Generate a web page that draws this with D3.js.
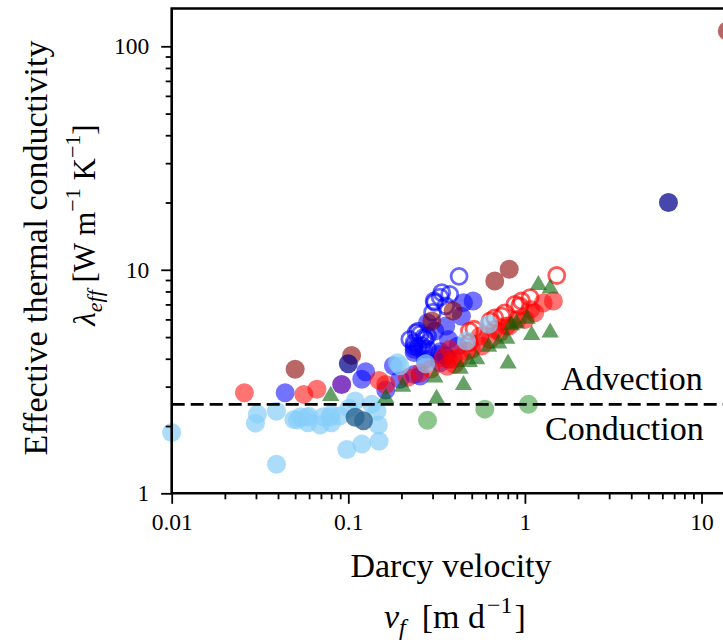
<!DOCTYPE html>
<meta charset="utf-8">
<body style="margin:0;background:#fff">
<style>
  svg{display:block}
  text{font-family:"Liberation Serif","Times New Roman",serif;fill:#000}
</style>
<script src="https://cdn.jsdelivr.net/npm/d3@7"></script>
<script>
  //data, [Darcy velocity, lambda_eff]
  var skyFilled = [[0.01,1.87],[0.0306,2.26],[0.0298,2.06],[0.0392,2.33],[0.0392,1.35],[0.0492,2.14],[0.0515,2.13],
    [0.0537,2.2],[0.0582,2.19],[0.0597,2.21],[0.059,2.07],[0.0693,2.02],[0.0722,2.2],[0.0788,2.19],[0.0802,2.07],
    [0.0802,2.26],[0.0896,2.22],[0.0981,1.57],[0.1009,2.4],[0.1094,2.59],[0.1192,1.66],[0.1358,2.5],[0.1453,2.33],
    [0.148,2.02],[0.1494,1.71],[0.19,3.84],[0.196,3.72],[0.274,3.8],[0.467,4.8],[0.623,5.7]];
  var tealFilled = [[0.1094,2.19],[0.1219,2.11]];
  var redFilled = [[0.0258,2.82],[0.056,2.77],[0.0664,2.92],[0.1494,3.2],[0.163,3.07],[0.216,3.3],[0.255,3.45],
    [0.2935,3.6],[0.344,4.04],[0.363,3.7],[0.394,3.98],[0.40,3.78],[0.43,4.04],[0.375,4.4],[0.467,4.33],[0.4975,4.4],
    [0.569,4.56],[0.6345,4.88],[0.557,5.05],[0.722,5.24],[0.675,5.4],[0.786,5.6],[0.815,5.6],[0.906,6.0],[1.002,6.0],
    [1.076,6.65],[1.137,6.42],[1.269,7.1],[1.45,7.25]];
  var redOpen = [[0.485,4.72],[0.485,5.32],[0.515,5.42],[0.6345,5.9],[0.675,6.1],[0.74,6.2],[0.7685,6.42],
    [0.878,7.0],[0.935,6.9],[0.957,7.25],[1.07,7.51],[1.515,9.43]];
  var blueFilled = [[0.0439,2.82],[0.1192,3.24],[0.1254,3.5],[0.163,2.9],[0.18,3.72],[0.196,3.24],[0.236,3.4],
    [0.255,3.35],[0.236,4.41],[0.236,4.26],[0.236,4.56],[0.272,3.98],[0.268,4.41],[0.325,4.18],[0.331,3.84],
    [0.331,4.3],[0.3565,4.11],[0.369,3.98],[0.369,4.88],[0.418,4.56],[0.281,5.8],[0.309,5.32],[0.3565,5.6],
    [0.437,6.2],[0.449,7.13],[0.509,7.25]];
  var blueOpen = [[0.424,9.35],[0.331,7.55],[0.309,7.15],[0.3565,6.9],[0.30,6.45],[0.375,7.77],[0.338,7.9],
    [0.306,7.25],[0.255,5.15],[0.272,4.88],[0.249,4.49],[0.281,4.41],[0.223,4.88],[0.249,5.32],[0.268,5.0],
    [0.236,4.72],[0.281,5.05],[0.262,4.56],[0.242,5.24]];
  var brownFilled = [[0.05,3.59],[0.1044,4.14],[0.297,5.9],[0.392,6.54],[0.675,8.91],[0.815,10.05],[14,117]];
  var navyFilled = [[0.1,3.8],[6.5,20]];
  var purpleFilled = [[0.0917,3.07]];
  var greenTri = [[0.0795,2.8],[0.163,2.74],[0.203,3.08],[0.309,3.38],[0.316,2.72],[0.43,3.7],[0.449,3.13],
    [0.485,3.97],[0.533,4.08],[0.623,4.64],[0.71,4.8],[0.789,5.05],[0.803,3.91],[0.838,5.8],[0.895,5.9],
    [1.031,6.2],[1.092,5.24],[1.39,5.38],[1.192,8.77],[1.39,8.47]];
  var greenCircle = [[0.281,2.12],[0.593,2.38],[1.047,2.5]];

  var xMajor = [0.01, 0.1, 1, 10];
  var xMajorLabels = ["0.01", "0.1", "1", "10"];
  var yMajor = [1, 10, 100];
  var yMajorLabels = ["1", "10", "100"];
  var boundary = 2.5;   //dashed line, advection / conduction

  var W = 723, H = 640;
  var svg = d3.select("body").append("svg")
    .attr("width", W)
    .attr("height", H);

  //log scales, the right end of the axes lies just past the picture edge
  var xMax = 14.5, yMax = 147.6;
  var x = d3.scaleLog().domain([0.01, xMax]).range([171.7, 730]);
  var y = d3.scaleLog().domain([1, yMax]).range([493.3, 8.5]);

  //minor ticks 2..9 of every decade
  function minors(lo, hi, max) {
    var out = [];
    for (var e = lo; e < hi; e++)
      for (var k = 2; k < 10; k++) {
        var v = k * Math.pow(10, e);
        if (v < max) out.push(v);
      }
    return out;
  }

  //points
  var g = svg.append("g");
  function filled(data, color, op) {
    g.append("g").selectAll("circle")
      .data(data).enter().append("circle")
      .attr("cx", function(d){ return x(d[0]); })
      .attr("cy", function(d){ return y(d[1]); })
      .attr("r", 9.5)
      .attr("fill", color)
      .attr("fill-opacity", op);
  }
  function open(data, color, op) {
    g.append("g").selectAll("circle")
      .data(data).enter().append("circle")
      .attr("cx", function(d){ return x(d[0]); })
      .attr("cy", function(d){ return y(d[1]); })
      .attr("r", 8)
      .attr("fill", "none")
      .attr("stroke", color)
      .attr("stroke-width", 2.8)
      .attr("stroke-opacity", op);
  }

  filled(blueFilled, "blue", 0.55);
  open(blueOpen, "blue", 0.6);
  filled(redFilled, "red", 0.55);
  open(redOpen, "red", 0.65);
  filled(skyFilled, "#87cefa", 0.7);
  filled(tealFilled, "#2a6592", 0.8);
  filled(brownFilled, "#8b0000", 0.6);
  filled(navyFilled, "#00008b", 0.72);
  filled(purpleFilled, "#5d00b0", 0.75);

  //triangle centred on its box, like the '^' marker
  var triUp = {
    draw: function(ctx, size) {
      var h = Math.sqrt(size) * 0.66, w = h * 1.15;
      ctx.moveTo(0, -h);
      ctx.lineTo(w, h);
      ctx.lineTo(-w, h);
      ctx.closePath();
    }
  };
  g.append("g").selectAll("path")
    .data(greenTri).enter().append("path")
    .attr("d", d3.symbol().type(triUp).size(130))
    .attr("transform", function(d){ return "translate(" + x(d[0]) + "," + y(d[1]) + ")"; })
    .attr("fill", "darkgreen")
    .attr("fill-opacity", 0.6);
  filled(greenCircle, "green", 0.45);

  //dashed boundary line
  svg.append("line")
    .attr("x1", x(0.01)).attr("x2", x(xMax))
    .attr("y1", y(boundary)).attr("y2", y(boundary))
    .attr("stroke", "#000")
    .attr("stroke-width", 2.6)
    .attr("stroke-dasharray", "13,6");

  svg.append("text").attr("x", 561).attr("y", 390)
    .attr("font-size", 34).text("Advection");
  svg.append("text").attr("x", 545).attr("y", 440)
    .attr("font-size", 34).text("Conduction");

  //axes: minor and major ticks in separate groups
  svg.append("g").attr("transform", "translate(0,493.3)")
    .call(d3.axisBottom(x).tickValues(minors(-2, 2, xMax)).tickSize(6).tickFormat(""));
  svg.append("g").attr("transform", "translate(0,493.3)")
    .call(d3.axisBottom(x).tickValues(xMajor).tickSize(10.5).tickPadding(10)
      .tickFormat(function(d, i){ return xMajorLabels[i]; }));
  svg.append("g").attr("transform", "translate(171.7,0)")
    .call(d3.axisLeft(y).tickValues(minors(0, 3, yMax)).tickSize(6).tickFormat(""));
  svg.append("g").attr("transform", "translate(171.7,0)")
    .call(d3.axisLeft(y).tickValues(yMajor).tickSize(10.5).tickPadding(12)
      .tickFormat(function(d, i){ return yMajorLabels[i]; }));

  svg.selectAll(".domain").remove();
  svg.selectAll(".tick line").attr("stroke", "#000").attr("stroke-width", 1.8);
  svg.selectAll(".tick text").attr("font-size", 23.5).attr("font-family", "Liberation Serif");

  //spines: top, left, bottom
  svg.append("path")
    .attr("d", "M" + x(xMax) + "," + y(yMax) + "H" + x(0.01) + "V" + y(1) + "H" + x(xMax))
    .attr("fill", "none")
    .attr("stroke", "#000")
    .attr("stroke-width", 2.6);

  //x label, two lines
  svg.append("text").attr("x", 451).attr("y", 577)
    .attr("text-anchor", "middle").attr("font-size", 34).text("Darcy velocity");
  var xl = svg.append("text").attr("x", 384).attr("y", 628).attr("font-size", 34);
  xl.append("tspan").attr("font-style", "italic").text("v");
  xl.append("tspan").attr("font-style", "italic").attr("font-size", 24).attr("dy", 7).text("f");
  xl.append("tspan").attr("dy", -7).attr("dx", 16).text("[m d");
  xl.append("tspan").attr("font-size", 24).attr("dy", -15).attr("dx", 2).text("\u22121");
  xl.append("tspan").attr("dy", 15).attr("dx", 2).text("]");

  //y label, two lines
  svg.append("text")
    .attr("transform", "translate(47,248) rotate(-90)")
    .attr("text-anchor", "middle").attr("font-size", 34)
    .text("Effective thermal conductivity");
  var yl = svg.append("text")
    .attr("transform", "translate(95,225) rotate(-90)")
    .attr("text-anchor", "middle").attr("font-size", 31);
  yl.append("tspan").attr("font-style", "italic").text("\u03bb");
  yl.append("tspan").attr("font-style", "italic").attr("font-size", 22).attr("dy", 7).text("eff");
  yl.append("tspan").attr("dy", -7).text(" [W m");
  yl.append("tspan").attr("font-size", 22).attr("dy", -15).text("\u22121");
  yl.append("tspan").attr("dy", 15).text(" K");
  yl.append("tspan").attr("font-size", 22).attr("dy", -15).text("\u22121");
  yl.append("tspan").attr("dy", 15).text("]");
</script>
</body>
